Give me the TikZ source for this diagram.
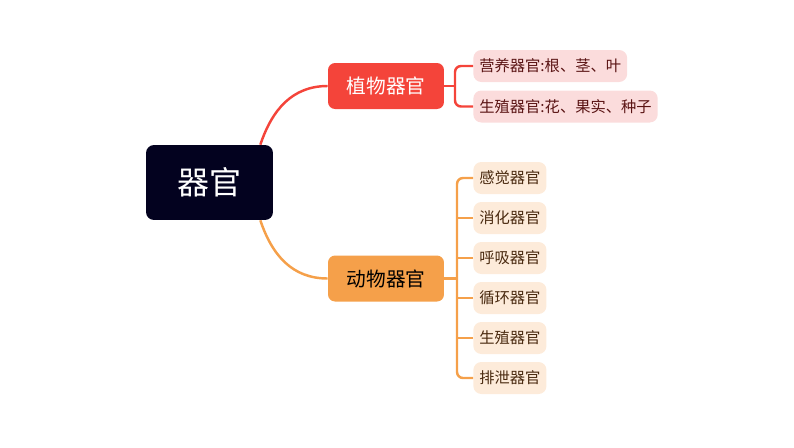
\documentclass[tikz,border=0pt]{standalone}
\usepackage{fontspec}
\setmainfont{Noto Sans CJK SC}
\definecolor{rootfill}{HTML}{03021F}
\definecolor{plantred}{HTML}{F4443A}
\definecolor{plantleaf}{HTML}{FBDCDC}
\definecolor{planttext}{HTML}{5A1414}
\definecolor{animorange}{HTML}{F5A04A}
\definecolor{animleaf}{HTML}{FDEBDA}
\definecolor{animtext}{HTML}{4A2A10}
\tikzset{
  rootbox/.style={fill=rootfill,text=white,rounded corners=0.16cm,
    minimum width=2.54cm,minimum height=1.5cm,font=\fontsize{18.2pt}{20pt}\selectfont},
  branchbox/.style={rounded corners=0.14cm,minimum width=2.32cm,
    minimum height=0.92cm,font=\fontsize{11.2pt}{13pt}\selectfont},
  leafbox/.style={rounded corners=0.16cm,minimum height=0.64cm,inner xsep=0.12cm,
    font=\fontsize{8.7pt}{10pt}\selectfont},
  redline/.style={plantred,line width=1.4pt},
  orangeline/.style={animorange,line width=1.4pt}
}
\begin{document}
\begin{tikzpicture}[x=0.02cm,y=-0.02cm]
  \useasboundingbox (0,0) rectangle (794,447);
  \node[rootbox] (organ) at (209.5,182.5) {器官};
  \node[branchbox,fill=plantred,text=white] (plant) at (386,86) {植物器官};
  \node[branchbox,fill=animorange,text=black] (animal) at (386,278.5) {动物器官};
  \node[leafbox,fill=plantleaf,text=planttext,anchor=west] (nutri) at (473,66) {营养器官:根、茎、叶};
  \node[leafbox,fill=plantleaf,text=planttext,anchor=west] (repro) at (473,106.5) {生殖器官:花、果实、种子};
  \foreach \n/\y/\t in {a1/178/感觉器官,a2/218/消化器官,a3/258/呼吸器官,
      a4/298/循环器官,a5/338/生殖器官,a6/378/排泄器官}
    \node[leafbox,fill=animleaf,text=animtext,minimum width=1.46cm,anchor=west] (\n) at (473,\y) {\t};
  % root to branches
  \draw[redline] ([xshift=-0.26cm]organ.north east) .. controls (272,110) and (292,86) .. (plant.west);
  \draw[orangeline] ([xshift=-0.26cm]organ.south east) .. controls (272,255) and (292,278.5) .. (animal.west);
  % branches to leaves
  \draw[redline] (plant.east) -- (455,86);
  \draw[redline,rounded corners=0.12cm] (nutri.west) -- (455,66) -- (455,106.5) -- (repro.west);
  \draw[orangeline] (animal.east) -- (457,278.5);
  \draw[orangeline,rounded corners=0.12cm] (a1.west) -- (457,178) -- (457,378) -- (a6.west);
  \foreach \n in {a2,a3,a4,a5}
    \draw[orangeline] (\n.west) -- ++(-16,0);
\end{tikzpicture}
\end{document}
